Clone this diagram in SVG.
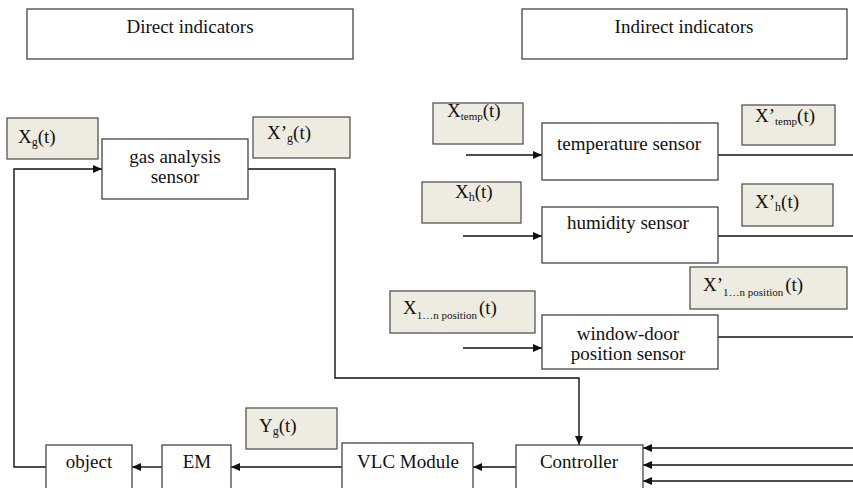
<svg xmlns="http://www.w3.org/2000/svg" width="853" height="488" viewBox="0 0 853 488">
<defs>
<marker id="arr" markerUnits="userSpaceOnUse" markerWidth="10" markerHeight="9" refX="9" refY="4" orient="auto">
<path d="M0,0 L9,4 L0,8 z" fill="#111"/>
</marker>
<style>
.box{fill:#fff;stroke:#444;stroke-width:1.3}
.lbl{fill:#eeece1;stroke:#555;stroke-width:1.3}
.ln{fill:none;stroke:#111;stroke-width:1.4}
.la{fill:none;stroke:#111;stroke-width:1.4;marker-end:url(#arr)}
</style>
</defs>
<rect width="853" height="488" fill="#fff"/>

<g id="connectors">
<path class="la" d="M46,467 H14 V169 H102"/>
<path class="la" d="M248,169 H335 V378 H579 V445"/>
<path class="la" d="M466,155 H542"/>
<path class="ln" d="M718,155 H853"/>
<path class="la" d="M463,236 H542"/>
<path class="ln" d="M718,236 H853"/>
<path class="la" d="M463,348 H542"/>
<path class="ln" d="M718,337 H853"/>
<path class="la" d="M853,448 H643"/>
<path class="la" d="M853,465 H643"/>
<path class="la" d="M853,481 H643"/>
<path class="la" d="M516,467 H473"/>
<path class="la" d="M342,467 H231"/>
<path class="la" d="M162,467 H132"/>
</g>

<g font-family="Liberation Serif, Times New Roman, serif" font-size="19" fill="#111">
<g id="direct">
<rect class="box" x="27" y="9" width="326" height="50"/>
<text x="190" y="33" text-anchor="middle">Direct indicators</text>
</g>
<g id="indirect">
<rect class="box" x="522" y="9" width="325" height="50"/>
<text x="684" y="33" text-anchor="middle">Indirect indicators</text>
</g>

<g id="xg">
<rect class="lbl" x="7" y="118" width="91" height="41"/>
<text x="18" y="143">X<tspan font-size="12" dy="3">g</tspan><tspan dy="-3">(t)</tspan></text>
</g>
<g id="gas">
<rect class="box" x="102" y="139" width="146" height="60"/>
<text x="175" y="163" text-anchor="middle">gas analysis</text>
<text x="175" y="183" text-anchor="middle">sensor</text>
</g>
<g id="xg2">
<rect class="lbl" x="253" y="117" width="97" height="41"/>
<text x="267" y="139">X’<tspan font-size="12" dy="3">g</tspan><tspan dy="-3">(t)</tspan></text>
</g>

<g id="xtemp">
<rect class="lbl" x="433" y="103" width="90" height="41"/>
<text x="447" y="117">X<tspan font-size="11" dy="3">temp</tspan><tspan dy="-3">(t)</tspan></text>
</g>
<g id="temp">
<rect class="box" x="542" y="123" width="176" height="57"/>
<text x="629" y="150" text-anchor="middle">temperature sensor</text>
</g>
<g id="xtemp2">
<rect class="lbl" x="742" y="105" width="93" height="40"/>
<text x="755" y="122">X’<tspan font-size="11" dy="3">temp</tspan><tspan dy="-3">(t)</tspan></text>
</g>

<g id="xh">
<rect class="lbl" x="422" y="182" width="99" height="41"/>
<text x="455" y="198">X<tspan font-size="12" dy="3">h</tspan><tspan dy="-3">(t)</tspan></text>
</g>
<g id="humidity">
<rect class="box" x="542" y="207" width="176" height="56"/>
<text x="628" y="229" text-anchor="middle">humidity sensor</text>
</g>
<g id="xh2">
<rect class="lbl" x="742" y="184" width="91" height="42"/>
<text x="755" y="208">X’<tspan font-size="12" dy="3">h</tspan><tspan dy="-3">(t)</tspan></text>
</g>

<g id="xpos2">
<rect class="lbl" x="690" y="267" width="157" height="42"/>
<text x="703" y="291">X’<tspan font-size="11" dy="5">1…n position</tspan><tspan dx="2" dy="-5">(t)</tspan></text>
</g>
<g id="xpos">
<rect class="lbl" x="390" y="291" width="145" height="42"/>
<text x="403" y="314">X<tspan font-size="11" dy="5">1…n position</tspan><tspan dx="2" dy="-5">(t)</tspan></text>
</g>
<g id="window">
<rect class="box" x="542" y="315" width="176" height="54"/>
<text x="628" y="340" text-anchor="middle">window-door</text>
<text x="628" y="360" text-anchor="middle">position sensor</text>
</g>

<g id="yg">
<rect class="lbl" x="246" y="408" width="91" height="41"/>
<text x="259" y="432">Y<tspan font-size="12" dy="3">g</tspan><tspan dy="-3">(t)</tspan></text>
</g>
<g id="object">
<rect class="box" x="46" y="445" width="86" height="60"/>
<text x="89" y="468" text-anchor="middle">object</text>
</g>
<g id="em">
<rect class="box" x="162" y="445" width="69" height="60"/>
<text x="197" y="468" text-anchor="middle">EM</text>
</g>
<g id="vlc">
<rect class="box" x="342" y="443" width="131" height="60"/>
<text x="408" y="468" text-anchor="middle">VLC Module</text>
</g>
<g id="controller">
<rect class="box" x="516" y="445" width="127" height="60"/>
<text x="579" y="468" text-anchor="middle">Controller</text>
</g>
</g>
</svg>
